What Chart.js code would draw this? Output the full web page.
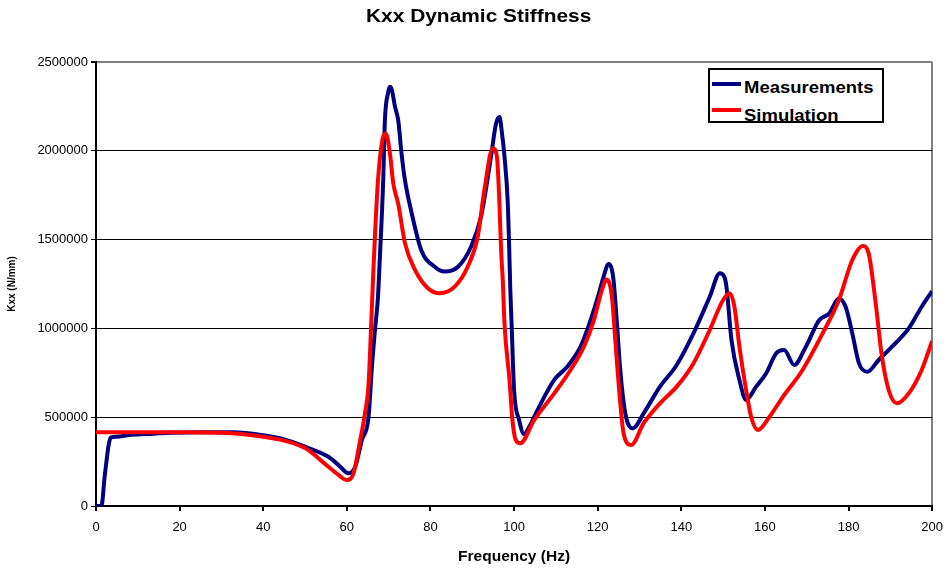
<!DOCTYPE html>
<html>
<head>
<meta charset="utf-8">
<script src="https://cdn.jsdelivr.net/npm/chart.js@4/dist/chart.umd.min.js"></script>
<style>
  html, body { margin: 0; padding: 0; background: #fff; }
  #wrap { position: relative; width: 952px; height: 569px; font-family: "Liberation Sans", Arial, sans-serif; }
  #title { position: absolute; top: 5px; left: 366px; font-weight: bold; font-size: 19px; white-space: nowrap; transform: scaleX(1.1); transform-origin: left top; }
  #legend { position: absolute; left: 708px; top: 68px; width: 172px; height: 51px; border: 2px solid #000; background: #fff; overflow: hidden; }
  .lg { position: absolute; left: 2px; font-weight: bold; font-size: 16.5px; white-space: nowrap; }
  .lg i { display: inline-block; width: 29px; height: 4px; margin-right: 3px; vertical-align: top; }
  .lg span { display: inline-block; transform: scaleX(1.12); transform-origin: left top; }
</style>
</head>
<body>
<div id="wrap">
  <canvas id="c" width="952" height="569"></canvas>
  <div id="title">Kxx Dynamic Stiffness</div>
  <div id="legend">
    <div class="lg" style="top:8px"><i style="background:#000080;margin-top:4px"></i><span>Measurements</span></div>
    <div class="lg" style="top:36px"><i style="background:#ff0000;margin-top:2px"></i><span>Simulation</span></div>
  </div>
</div>
<script>
// measured curve (Hz, N/mm)
const measFreq = [0, 1.2, 1.5, 2.0, 2.5, 3.0, 3.5, 5, 8, 12, 18, 25, 33, 40, 45, 50, 55.6, 58, 60.4, 62, 63.6, 65.2, 66, 66.8, 67.4, 67.9, 68.7, 69.1, 69.9, 70.3, 70.8, 71.5, 72.3, 73.1, 73.9, 75.5, 77.8, 81, 83.4, 86.6, 89.7, 92.1, 94.5, 95.7, 96.5, 97.1, 97.7, 98.5, 98.8, 99.1, 99.4, 100, 101.2, 102.4, 103.5, 105.6, 109.6, 112.7, 115.9, 118.3, 120.3, 121.4, 122.6, 123.3, 123.8, 124.6, 125.4, 126.6, 128.4, 131, 134.9, 138.9, 142.9, 146.8, 149.2, 150.3, 150.8, 152, 153.9, 155.5, 157.9, 160.3, 162.7, 164.6, 167, 169.8, 173, 175.4, 177.7, 179.3, 180.9, 182.5, 184.5, 187.2, 190.4, 194.4, 197.5, 200];
const measKxx = [0, 0, 20000, 150000, 250000, 340000, 385000, 390000, 400000, 405000, 412000, 415000, 415000, 398000, 375000, 334000, 277000, 231000, 184000, 221000, 372000, 503000, 784000, 1010000, 1160000, 1400000, 1835000, 2170000, 2330000, 2360000, 2340000, 2250000, 2170000, 1980000, 1835000, 1650000, 1440000, 1347000, 1320000, 1347000, 1460000, 1630000, 1970000, 2155000, 2190000, 2100000, 1970000, 1705000, 1480000, 1216000, 1030000, 653000, 484000, 405000, 440000, 540000, 710000, 784000, 897000, 1047000, 1198000, 1290000, 1363000, 1340000, 1270000, 1030000, 766000, 522000, 437000, 522000, 672000, 794000, 972000, 1178000, 1310000, 1290000, 1235000, 935000, 710000, 597000, 672000, 747000, 860000, 878000, 794000, 897000, 1047000, 1085000, 1169000, 1122000, 972000, 803000, 756000, 822000, 897000, 1000000, 1122000, 1210000];

// simulated curve
const simFreq = [0, 20, 30, 40, 45, 50, 55.6, 58, 60, 61.6, 63.2, 64.2, 65.2, 65.8, 66.3, 66.8, 67.5, 68.7, 69.3, 70.3, 71.1, 72.3, 73.9, 76.3, 79.4, 82.2, 85.8, 88.9, 91.3, 92.9, 94.9, 95.9, 96.5, 96.9, 97.3, 97.7, 98.9, 99.6, 100.4, 101.5, 104.8, 109.6, 113.5, 116.7, 119.1, 121, 122.1, 123.4, 124.2, 125, 126.2, 128, 131, 134.9, 138.9, 142.9, 146.8, 150, 151.6, 152.7, 153.9, 155.5, 156.7, 158.3, 161.1, 164.3, 169, 173.8, 177.7, 180.9, 183.4, 184.8, 186.4, 188, 189.6, 191.6, 194.4, 197.5, 200];
const simKxx = [415000, 415000, 412000, 390000, 368000, 326000, 221000, 175000, 146000, 184000, 372000, 503000, 691000, 1010000, 1300000, 1560000, 1850000, 2080000, 2098000, 1986000, 1817000, 1700000, 1480000, 1330000, 1226000, 1198000, 1235000, 1347000, 1516000, 1780000, 2014000, 1967000, 1700000, 1440000, 1270000, 1030000, 710000, 484000, 372000, 353000, 484000, 634000, 766000, 897000, 1047000, 1216000, 1276000, 1178000, 935000, 691000, 409000, 343000, 466000, 578000, 672000, 803000, 991000, 1160000, 1198000, 1122000, 897000, 653000, 503000, 428000, 503000, 615000, 766000, 972000, 1160000, 1385000, 1464000, 1423000, 1160000, 840000, 653000, 578000, 634000, 766000, 930000];

const xTicks = [0, 20, 40, 60, 80, 100, 120, 140, 160, 180, 200];
const yTicks = [0, 500000, 1000000, 1500000, 2000000, 2500000];

function zip(xs, ys) {
  return xs.map((x, i) => ({ x: x, y: ys[i] }));
}

const font = "'Liberation Sans', Arial, sans-serif";

new Chart(document.getElementById("c"), {
  type: "line",
  data: {
    datasets: [
      {
        label: "Simulation",
        data: zip(simFreq, simKxx),
        borderColor: "#ff0000",
        borderWidth: 4,
        pointRadius: 0,
        cubicInterpolationMode: "monotone",
        order: 0
      },
      {
        label: "Measurements",
        data: zip(measFreq, measKxx),
        borderColor: "#000080",
        borderWidth: 4,
        pointRadius: 0,
        cubicInterpolationMode: "monotone",
        order: 1
      }
    ]
  },
  options: {
    responsive: false,
    animation: false,
    layout: { padding: { top: 62, right: 15, left: 0, bottom: 0 } },
    plugins: {
      legend: { display: false },
      tooltip: { enabled: false }
    },
    scales: {
      x: {
        type: "linear",
        min: 0,
        max: 200,
        afterFit: s => { s.height = 63; },
        afterBuildTicks: s => { s.ticks = xTicks.map(v => ({ value: v })); },
        ticks: { color: "#000", font: { family: font, size: 13 }, padding: 9, maxRotation: 0 },
        grid: {
          color: ctx => ctx.tick && ctx.tick.value === 200 ? "#808080" : "rgba(0,0,0,0)",
          lineWidth: 2,
          tickLength: 5,
          tickColor: "#000"
        },
        border: { color: "#000", width: 2 },
        title: {
          display: true,
          text: "Frequency (Hz)",
          color: "#000",
          font: { family: font, size: 15.5, weight: "bold" },
          padding: { top: 2, bottom: 3 }
        }
      },
      y: {
        type: "linear",
        min: 0,
        max: 2500000,
        afterFit: s => { s.width = 96; },
        afterBuildTicks: s => { s.ticks = yTicks.map(v => ({ value: v })); },
        ticks: { color: "#000", font: { family: font, size: 13 }, padding: 3, callback: v => String(v) },
        grid: {
          color: ctx => ctx.tick && ctx.tick.value === 2500000 ? "#808080" : "#000",
          lineWidth: ctx => ctx.tick && ctx.tick.value === 2500000 ? 2 : 1,
          tickLength: 5,
          tickColor: "#000"
        },
        border: { color: "#000", width: 2 },
        title: {
          display: true,
          text: "Kxx (N/mm)",
          color: "#000",
          font: { family: font, size: 10, weight: "bold" },
          padding: { top: 6, bottom: 0 }
        }
      }
    }
  }
});
</script>
</body>
</html>
